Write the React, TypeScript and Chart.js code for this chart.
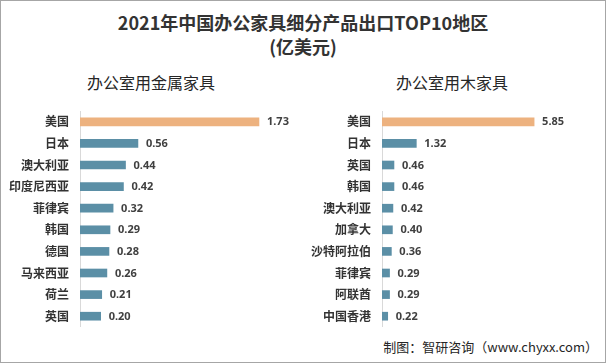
import React, { useEffect, useRef } from "react";
import { Chart, registerables } from "chart.js";

Chart.register(...registerables);

const metalCategories = ["美国", "日本", "澳大利亚", "印度尼西亚", "菲律宾", "韩国", "德国", "马来西亚", "荷兰", "英国"];
const metalValues = [1.73, 0.56, 0.44, 0.42, 0.32, 0.29, 0.28, 0.26, 0.21, 0.2];

const woodCategories = ["美国", "日本", "英国", "韩国", "澳大利亚", "加拿大", "沙特阿拉伯", "菲律宾", "阿联酋", "中国香港"];
const woodValues = [5.85, 1.32, 0.46, 0.46, 0.42, 0.4, 0.36, 0.29, 0.29, 0.22];

const ORANGE = "#EDB27F";
const BLUE = "#5B8FA6";
const CJK = '"Noto Sans CJK SC", "Noto Sans", sans-serif';

const labelPlugin = {
  id: "valueLabels",
  afterDatasetsDraw(chart: any) {
    const ctx = chart.ctx;
    const meta = chart.getDatasetMeta(0);
    const data = chart.data.datasets[0].data as number[];
    ctx.save();
    ctx.font = 'bold 11px "Noto Sans", sans-serif';
    ctx.fillStyle = "#404040";
    ctx.textAlign = "left";
    ctx.textBaseline = "middle";
    meta.data.forEach((bar: any, i: number) => {
      ctx.fillText(data[i].toFixed(2), bar.x + 8, bar.y + 0.5);
    });
    ctx.restore();
  },
};

function BarPanel(props: { cats: string[]; vals: number[]; max: number; axisWidth: number; width: number }) {
  const ref = useRef<HTMLCanvasElement>(null);
  useEffect(() => {
    if (!ref.current) return;
    const chart = new Chart(ref.current, {
      type: "bar",
      data: {
        labels: props.cats,
        datasets: [
          {
            data: props.vals,
            backgroundColor: props.vals.map((_, i) => (i === 0 ? ORANGE : BLUE)),
            barThickness: 8,
          },
        ],
      },
      options: {
        indexAxis: "y",
        animation: false,
        responsive: false,
        maintainAspectRatio: false,
        layout: { padding: { left: 0, right: 10, top: 0, bottom: 0 } },
        plugins: { legend: { display: false }, tooltip: { enabled: false }, title: { display: false } },
        scales: {
          x: { display: false, min: 0, max: props.max },
          y: {
            grid: { display: false, drawTicks: false },
            border: { display: true, color: "#D9D9D9", width: 1 },
            ticks: {
              padding: 11,
              color: "#333333",
              font: { family: CJK, size: 12, weight: "bold" },
            },
            afterFit(scale: any) {
              scale.width = props.axisWidth;
              scale.paddingTop = 0;
              scale.paddingBottom = 0;
            },
          },
        },
      },
      plugins: [labelPlugin],
    } as any);
    return () => chart.destroy();
  }, []);
  return <canvas ref={ref} width={props.width} height={216} style={{ display: "block" }} />;
}

export default function App() {
  const textBase: React.CSSProperties = { position: "absolute", whiteSpace: "nowrap", fontFamily: CJK };
  return (
    <div
      style={{
        position: "absolute",
        left: 0,
        top: 0,
        width: 606,
        height: 364,
        background: "#fff",
        overflow: "hidden",
      }}
    >
      <div
        style={{
          position: "absolute",
          left: 0,
          top: 0,
          width: 604,
          height: 361,
          border: "1px solid #A6A6A6",
        }}
      />
      <div style={{ ...textBase, left: 0, width: 606, textAlign: "center", top: 13, fontSize: 18, lineHeight: "18px", fontWeight: "bold", color: "#333" }}>
        2021年中国办公家具细分产品出口TOP10地区
      </div>
      <div style={{ ...textBase, left: 0, width: 606, textAlign: "center", top: 37, fontSize: 18, lineHeight: "18px", fontWeight: "bold", color: "#333" }}>
        (亿美元)
      </div>
      <div style={{ ...textBase, left: 51, width: 200, textAlign: "center", top: 73.5, fontSize: 16, lineHeight: "16px", color: "#262626" }}>
        办公室用金属家具
      </div>
      <div style={{ ...textBase, left: 352, width: 200, textAlign: "center", top: 73.5, fontSize: 16, lineHeight: "16px", color: "#262626" }}>
        办公室用木家具
      </div>
      <div style={{ position: "absolute", left: 0, top: 111 }}>
        <BarPanel cats={metalCategories} vals={metalValues} max={2.03} axisWidth={80} width={300} />
      </div>
      <div style={{ position: "absolute", left: 300, top: 111 }}>
        <BarPanel cats={woodCategories} vals={woodValues} max={8.23} axisWidth={82} width={306} />
      </div>
      <div style={{ ...textBase, right: 8, top: 339.5, fontSize: 13, lineHeight: "13px", color: "#262626" }}>
        制图：智研咨询（www.chyxx.com）
      </div>
    </div>
  );
}
